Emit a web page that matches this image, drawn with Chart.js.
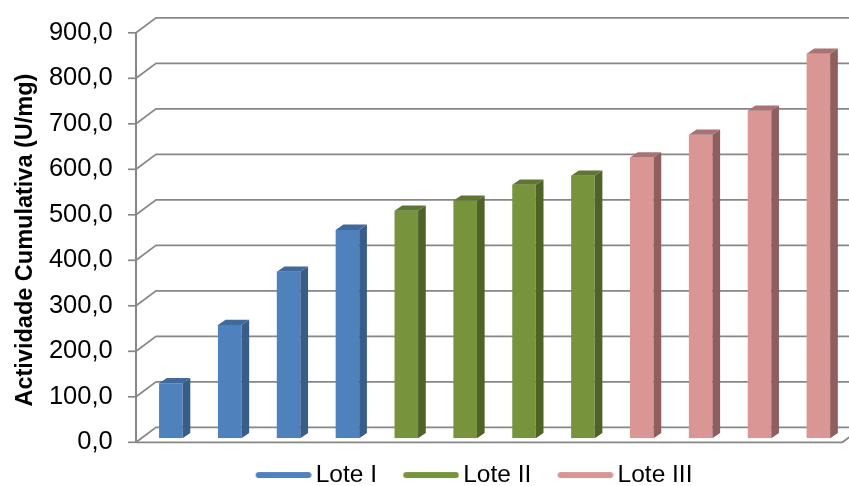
<!DOCTYPE html>
<html>
<head>
<meta charset="utf-8">
<title>Actividade Cumulativa</title>
<script src="https://cdn.jsdelivr.net/npm/chart.js@4.4.1/dist/chart.umd.min.js"></script>
<style>
  html, body { margin: 0; padding: 0; background: #ffffff; }
  #wrap { position: relative; width: 849px; height: 486px; }
</style>
</head>
<body>
<div id="wrap"><canvas id="chart"></canvas></div>
<script>
// ---- data ----
const categories = ['1', '2', '3', '4', '5', '6', '7', '8', '9', '10', '11', '12'];
const seriesNames = ['Lote I', 'Lote II', 'Lote III'];
const loteI = [121, 249, 366, 458];
const loteII = [500, 522, 557, 577];
const loteIII = [617, 667, 720, 845];
const yTickValues = [0, 100, 200, 300, 400, 500, 600, 700, 800, 900];
const yTickLabels = ['0,0', '100,0', '200,0', '300,0', '400,0', '500,0', '600,0', '700,0', '800,0', '900,0'];
const yTitle = 'Actividade Cumulativa (U/mg)';

// ---- styling ----
const FONT = "'Liberation Sans', Arial, sans-serif";
const frontColors = ['#4f81bd', '#77933c', '#d99694'];
const sideColors  = ['#385d8a', '#4f6228', '#8e5f5e'];
const topColors   = ['#41699c', '#5e7632', '#a87371'];
const GRID = '#878787';

// depth offsets of the box planes relative to the plane of the bar faces
const FRONT = { dx: -5.4, dy: 4 };
const BACK  = { dx: 14.6, dy: -11 };
const BAR_DEPTH = { dx: 7.7, dy: -5.3 };

// place each series on its own run of categories
const seriesData = [loteI, loteII, loteIII];
let cursor = 0;
const datasets = seriesData.map((vals, i) => {
  const data = categories.map(() => null);
  vals.forEach((v, k) => { data[cursor + k] = v; });
  cursor += vals.length;
  return {
    label: seriesNames[i],
    data,
    backgroundColor: frontColors[i],
    borderWidth: 0,
    grouped: false,
    categoryPercentage: 0.8,
    barPercentage: 0.5
  };
});

// short thick line used as legend key
function legendKey(color) {
  const c = document.createElement('canvas');
  c.width = 66; c.height = 8;
  const g = c.getContext('2d');
  g.strokeStyle = color;
  g.lineWidth = 6;
  g.lineCap = 'round';
  g.beginPath();
  g.moveTo(13, 4);
  g.lineTo(62.6, 4);
  g.stroke();
  return c;
}

// walls, floor and the front value axis of the 3D box
const box3d = {
  id: 'box3d',
  beforeDatasetsDraw(chart) {
    const { ctx, chartArea, scales: { y } } = chart;
    const fL = chartArea.left + FRONT.dx, fR = chartArea.right + FRONT.dx;
    const bL = chartArea.left + BACK.dx,  bR = chartArea.right + BACK.dx;
    ctx.save();
    ctx.strokeStyle = GRID;
    ctx.lineWidth = 1.7;
    ctx.lineJoin = 'miter';
    yTickValues.forEach(v => {
      const yy = y.getPixelForValue(v);
      ctx.beginPath();
      ctx.moveTo(fL, yy + FRONT.dy);
      ctx.lineTo(bL, yy + BACK.dy);
      ctx.lineTo(bR, yy + BACK.dy);
      ctx.stroke();
      // tick mark on the front axis
      ctx.beginPath();
      ctx.moveTo(fL - 8, yy + FRONT.dy);
      ctx.lineTo(fL, yy + FRONT.dy);
      ctx.stroke();
    });
    const y0 = y.getPixelForValue(yTickValues[0]);
    const yTop = y.getPixelForValue(yTickValues[yTickValues.length - 1]);
    // floor front and right edges
    ctx.beginPath();
    ctx.moveTo(fL, y0 + FRONT.dy);
    ctx.lineTo(fR, y0 + FRONT.dy);
    ctx.lineTo(bR, y0 + BACK.dy);
    ctx.stroke();
    // front value axis
    ctx.lineWidth = 2;
    ctx.beginPath();
    ctx.moveTo(fL, y0 + FRONT.dy);
    ctx.lineTo(fL, yTop + FRONT.dy);
    ctx.stroke();
    ctx.restore();
  },
  afterDatasetsDraw(chart) {
    const { ctx } = chart;
    ctx.save();
    chart.data.datasets.forEach((ds, i) => {
      chart.getDatasetMeta(i).data.forEach((bar, idx) => {
        if (ds.data[idx] == null) return;
        const { x, y, base, width } = bar.getProps(['x', 'y', 'base', 'width'], true);
        const l = x - width / 2, r = x + width / 2;
        // right side face
        ctx.fillStyle = sideColors[i];
        ctx.beginPath();
        ctx.moveTo(r, base);
        ctx.lineTo(r, y);
        ctx.lineTo(r + BAR_DEPTH.dx, y + BAR_DEPTH.dy);
        ctx.lineTo(r + BAR_DEPTH.dx, base + BAR_DEPTH.dy);
        ctx.closePath();
        ctx.fill();
        // top face
        ctx.fillStyle = topColors[i];
        ctx.beginPath();
        ctx.moveTo(l, y);
        ctx.lineTo(r, y);
        ctx.lineTo(r + BAR_DEPTH.dx, y + BAR_DEPTH.dy);
        ctx.lineTo(l + BAR_DEPTH.dx, y + BAR_DEPTH.dy);
        ctx.closePath();
        ctx.fill();
      });
    });
    ctx.restore();
  }
};

// rotated value-axis title, centred on the front axis
const TITLE_X = 25.5;
const axisTitle = {
  id: 'axisTitle',
  afterDraw(chart) {
    const { ctx, scales: { y } } = chart;
    const cy = (y.getPixelForValue(yTickValues[0]) + y.getPixelForValue(yTickValues[yTickValues.length - 1])) / 2 + FRONT.dy + 2.5;
    ctx.save();
    ctx.translate(TITLE_X, cy);
    ctx.rotate(-Math.PI / 2);
    ctx.font = "bold 23.5px " + FONT;
    ctx.fillStyle = '#000000';
    ctx.textAlign = 'center';
    ctx.textBaseline = 'middle';
    ctx.fillText(yTitle, 0, 0);
    ctx.restore();
  }
};

// nudge the legend row to the right of the canvas centre
const LEGEND_SHIFT = 49.3;
const legendShift = {
  id: 'legendShift',
  afterLayout(chart) {
    if (chart.legend) {
      chart.legend.left += LEGEND_SHIFT;
      chart.legend.right += LEGEND_SHIFT;
    }
  }
};

new Chart(document.getElementById('chart'), {
  type: 'bar',
  data: { labels: categories, datasets },
  plugins: [box3d, axisTitle, legendShift],
  options: {
    responsive: true,
    maintainAspectRatio: false,
    devicePixelRatio: 1,
    animation: false,
    layout: { padding: { top: 28.8, right: 1.2, bottom: -11.3, left: 0 } },
    scales: {
      x: {
        display: false,
        offset: true
      },
      y: {
        min: 0,
        max: 900,
        afterFit(scale) { scale.width = 141.4; },
        grid: { display: false, drawTicks: true, tickLength: 28.7 },
        border: { display: false },
        ticks: {
          stepSize: 100,
          padding: 0,
          labelOffset: 4,
          color: '#000000',
          font: { family: FONT, size: 25.5 },
          callback: (value) => {
            const k = yTickValues.indexOf(value);
            return k >= 0 ? yTickLabels[k] : '';
          }
        },
        title: { display: false }
      }
    },
    plugins: {
      tooltip: { enabled: false },
      legend: {
        display: true,
        position: 'bottom',
        labels: {
          usePointStyle: true,
          pointStyleWidth: 49.5,
          padding: 24.5,
          color: '#000000',
          font: { family: FONT, size: 24.5 },
          generateLabels: (chart) => chart.data.datasets.map((ds, i) => ({
            text: ds.label,
            pointStyle: legendKey(frontColors[i]),
            fillStyle: frontColors[i],
            strokeStyle: frontColors[i],
            lineWidth: 0,
            hidden: false,
            datasetIndex: i
          }))
        }
      }
    }
  }
});
</script>
</body>
</html>
